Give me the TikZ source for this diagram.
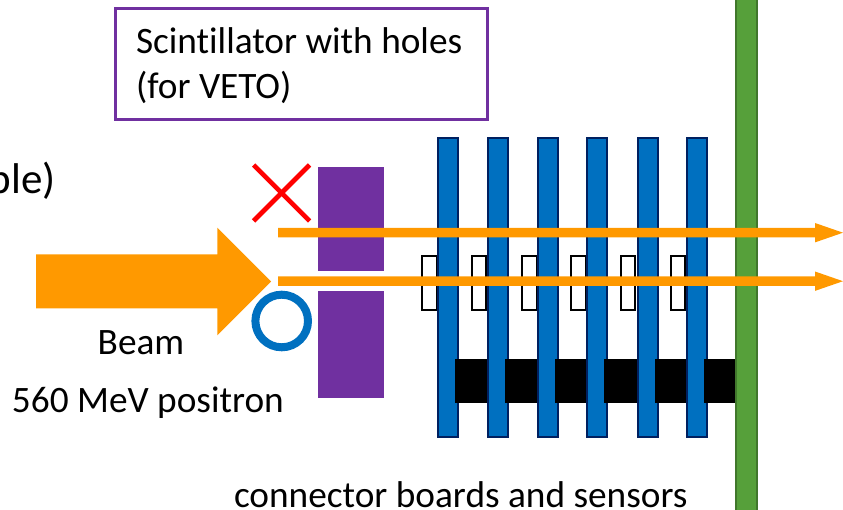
\documentclass[tikz,border=0pt]{standalone}
\usepackage{fontspec}
\setmainfont[Ligatures=CommonOff]{Carlito}
\definecolor{barblue}{HTML}{0070C0}
\definecolor{baredge}{HTML}{002060}
\definecolor{beamorange}{HTML}{FF9900}
\definecolor{vetopurple}{HTML}{7030A0}
\definecolor{wallgreen}{HTML}{56A03A}
\definecolor{walledge}{HTML}{41772C}
\tikzset{
  px/.style={x=1pt,y=-1pt},
  bar/.style={fill=barblue,draw=baredge,line width=2pt},
  sensor/.style={fill=white,draw=black,line width=2pt},
  blackblock/.style={fill=black,draw=none},
  veto/.style={fill=vetopurple,draw=none},
  beamline/.style={fill=beamorange,draw=none},
  label/.style={anchor=base west,inner sep=0pt,outer sep=0pt,text=black,font=\fontsize{37.3}{45}\selectfont},
}
\begin{document}
\begin{tikzpicture}[px]
\useasboundingbox (0,0) rectangle (843,510);
% sensors
\foreach \x in {422.3,471.7,522,571.3,620.7,670.7}
  \draw[sensor] (\x,256) rectangle (\x+14.6,310);
% bars and connector blocks, alternating front to back
\draw[bar] (438.3,138) rectangle (458.3,437);
\fill[blackblock] (455.3,358.7) rectangle (487,403.3);
\draw[bar] (487.7,137.7) rectangle (507.7,436.8);
\fill[blackblock] (504.7,358.7) rectangle (537.5,403.3);
\draw[bar] (538,138.2) rectangle (558,437.3);
\fill[blackblock] (555,358.7) rectangle (587,403.3);
\draw[bar] (587.3,137.7) rectangle (607.3,437);
\fill[blackblock] (604,358.7) rectangle (637,403.3);
\draw[bar] (637.7,138.2) rectangle (657.7,437.3);
\fill[blackblock] (654.7,358.7) rectangle (687,403.3);
\draw[bar] (686.7,138) rectangle (706.7,437);
\fill[blackblock] (703.7,358.7) rectangle (736,403.3);
% wall
\draw[fill=wallgreen,draw=walledge,line width=2pt] (735.7,-3) rectangle (756.7,513);
% scintillator
\fill[veto] (317.7,166.7) rectangle (383.7,270.7);
\fill[veto] (317.7,291) rectangle (383.7,398.3);
% beam arrows
\fill[beamline] (278,227.9) -- (815,227.9) -- (815,223) -- (843,232.7) -- (815,242.4) -- (815,237.5) -- (278,237.5) -- cycle;
\fill[beamline] (278,276.4) -- (815,276.4) -- (815,271.5) -- (843,281.2) -- (815,290.9) -- (815,286) -- (278,286) -- cycle;
\fill[beamline] (36,254.3) -- (217.3,254.3) -- (217.3,227.7) -- (271,281.5) -- (217.3,335.3) -- (217.3,308.3) -- (36,308.3) -- cycle;
% marks
\draw[red,line width=4.6pt] (253.5,165) -- (309.5,221);
\draw[red,line width=4.6pt] (309.5,165) -- (253.5,221);
\draw[barblue,line width=8pt] (281.7,321) circle (26.3);
% text box
\draw[vetopurple,line width=3pt] (115.5,8.5) rectangle (487,120);
\node[label] (t1) at (136,54) {Scintillator with holes};
\node[label] (t2) at (136,98.5) {(for VETO)};
\node[label,font=\fontsize{43}{52}\selectfont,anchor=base east] (t3) at (55.5,193.5) {ble)};
\node[label,anchor=base] (t4) at (141,355) {Beam};
\node[label] (t5) at (12,412) {560 MeV positron};
\node[label] (t6) at (234,507) {connector boards and sensors};
\end{tikzpicture}
\end{document}
